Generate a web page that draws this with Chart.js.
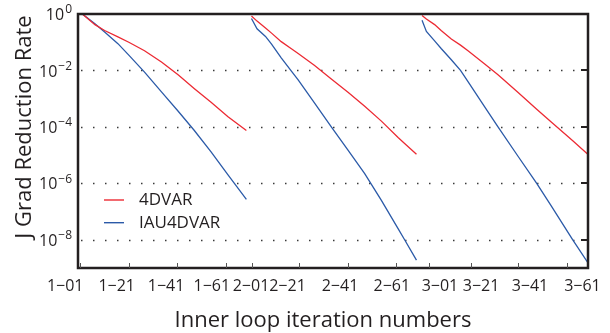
<!DOCTYPE html>
<html>
<head>
<meta charset="utf-8">
<script src="https://cdn.jsdelivr.net/npm/chart.js@4.4.1/dist/chart.umd.min.js"></script>
<style>
  html, body { margin: 0; padding: 0; background: #fff; }
  #wrap { width: 610px; height: 333px; }
</style>
</head>
<body>
<div id="wrap"><canvas id="gradChart" width="610" height="333"></canvas></div>
<script>
// Sampled inner iteration positions for each outer loop
const iters1 = [0.8, 6, 10, 15.5, 20, 26.5, 33.5, 40.5, 47, 54, 61, 68.6];
const iters2 = [70.7, 73, 76.5, 79, 83, 87.2, 90, 96.8, 103.7, 110.6, 117.5, 124.4, 131.3, 134, 138.9];
const iters3 = [141.2, 143, 146.4, 149.1, 153.3, 157.1, 160.2, 167.1, 172.6, 180.8, 188.6, 194.6, 203.5, 209.6];

// J gradient reduction rate, 4DVAR
const rate4dvar1 = [1, 0.42, 0.26, 0.155, 0.1, 0.050, 0.020, 6.9e-3, 2.3e-3, 7.4e-4, 2.3e-4, 7.4e-5];
const rate4dvar2 = [0.85, 0.56, 0.32, 0.21, 0.105, 0.059, 0.040, 0.015, 5.0e-3, 1.7e-3, 5.4e-4, 1.6e-4, 4.2e-5, 2.6e-5, 1.07e-5];
const rate4dvar3 = [0.89, 0.66, 0.42, 0.26, 0.13, 0.079, 0.050, 0.017, 7.1e-3, 1.7e-3, 4.2e-4, 1.5e-4, 3.2e-5, 1.1e-5];

// J gradient reduction rate, IAU4DVAR
const rateIau1 = [1, 0.45, 0.23, 0.089, 0.035, 8.7e-3, 1.74e-3, 3.5e-4, 7.6e-5, 1.3e-5, 2.0e-6, 2.7e-7];
const rateIau2 = [0.69, 0.30, 0.16, 0.085, 0.028, 9.5e-3, 4.6e-3, 6.9e-4, 1e-4, 1.5e-5, 2.2e-6, 2.5e-7, 2.5e-8, 1e-8, 1.9e-9];
const rateIau3 = [0.60, 0.24, 0.112, 0.060, 0.024, 0.01, 4.0e-3, 5.1e-4, 1e-4, 9.3e-6, 1e-6, 1.6e-7, 1e-8, 1.6e-9];

// x axis: tick marks and their labels (label centres)
const tickIters = [0, 20, 40, 60, 71, 90.5, 110.5, 130.5, 144, 161.5, 181, 201];
const labelIters = [-6.3, 15, 35.4, 54.3, 70.5, 85.6, 107.3, 128.7, 148.6, 165.6, 185.8, 207.5];
const tickLabels = ['1\u221201', '1\u221221', '1\u221241', '1\u221261',
                    '2\u221201', '2\u221221', '2\u221241', '2\u221261',
                    '3\u221201', '3\u221221', '3\u221241', '3\u221261'];

// y axis: decades shown and their exponents
const yTickValues = [1, 1e-2, 1e-4, 1e-6, 1e-8];
const yTickExps = ['0', '\u22122', '\u22124', '\u22126', '\u22128'];

const seriesNames = ['4DVAR', 'IAU4DVAR'];
const RED = '#ec2a33';
const BLUE = '#2b5aa8';
const INK = '#231f20';
const FONT = '"Open Sans", "Liberation Sans", sans-serif';

// Join the loops into one series, with a break between loops
function joinLoops(loops) {
    const pts = [];
    loops.forEach(([xs, ys], i) => {
        if (i > 0) pts.push({ x: xs[0], y: null });
        xs.forEach((x, k) => pts.push({ x: x, y: ys[k] }));
    });
    return pts;
}

const decorations = {
    id: 'decorations',
    beforeDatasetsDraw(chart) {
        const { ctx, chartArea: a, scales: { y } } = chart;
        ctx.save();
        ctx.strokeStyle = '#3a3a3a';
        ctx.lineWidth = 1.5;
        ctx.setLineDash([1.5, 10.5]);
        yTickValues.slice(1).forEach(v => {
            const py = Math.round(y.getPixelForValue(v)) + 0.5;
            ctx.beginPath();
            ctx.moveTo(a.left + 3, py);
            ctx.lineTo(a.right - 6, py);
            ctx.stroke();
        });
        ctx.restore();
    },
    afterDraw(chart) {
        const { ctx, chartArea: a, scales: { x, y } } = chart;
        ctx.save();
        ctx.fillStyle = INK;
        ctx.strokeStyle = INK;

        // frame
        ctx.lineWidth = 2.5;
        ctx.strokeRect(a.left, a.top, a.right - a.left, a.bottom - a.top);

        // inward tick marks
        ctx.lineWidth = 1;
        ctx.strokeStyle = '#555';
        tickIters.forEach(v => {
            const px = Math.round(x.getPixelForValue(v)) + 0.5;
            ctx.beginPath();
            ctx.moveTo(px, a.bottom);
            ctx.lineTo(px, a.bottom - 5);
            ctx.stroke();
        });
        ctx.lineWidth = 2;
        ctx.strokeStyle = INK;
        yTickValues.slice(1).forEach(v => {
            const py = Math.round(y.getPixelForValue(v));
            ctx.beginPath();
            ctx.moveTo(a.right, py);
            ctx.lineTo(a.right - 7, py);
            ctx.stroke();
        });

        // x tick labels
        ctx.font = '16px ' + FONT;
        ctx.textAlign = 'center';
        ctx.textBaseline = 'middle';
        tickLabels.forEach((t, i) => {
            ctx.fillText(t, x.getPixelForValue(labelIters[i]), a.bottom + 18);
        });

        // y tick labels: 10 with a raised exponent
        ctx.textAlign = 'left';
        yTickValues.forEach((v, i) => {
            const py = y.getPixelForValue(v);
            ctx.font = '16px ' + FONT;
            const wBase = ctx.measureText('10').width;
            ctx.font = '12px ' + FONT;
            const wExp = ctx.measureText(yTickExps[i]).width;
            const x0 = a.left - 6 - wBase - wExp - 1;
            ctx.font = '16px ' + FONT;
            ctx.fillText('10', x0, py + 1.5);
            ctx.font = '12px ' + FONT;
            ctx.fillText(yTickExps[i], x0 + wBase + 1, py - 4);
        });

        // axis titles
        ctx.font = '22px ' + FONT;
        ctx.textAlign = 'center';
        ctx.textBaseline = 'alphabetic';
        ctx.fillText('Inner loop iteration numbers', (a.left + a.right) / 2 - 10, 326.5);
        ctx.save();
        ctx.translate(31, (a.top + a.bottom) / 2 - 14);
        ctx.rotate(-Math.PI / 2);
        ctx.fillText('J Grad Reduction Rate', 0, 0);
        ctx.restore();

        // legend
        ctx.font = '17px ' + FONT;
        ctx.textAlign = 'left';
        ctx.textBaseline = 'middle';
        chart.data.datasets.forEach((ds, i) => {
            const ly = a.bottom - 68 + i * 22.7;
            ctx.strokeStyle = ds.borderColor;
            ctx.lineWidth = 1.4;
            ctx.beginPath();
            ctx.moveTo(a.left + 26, ly);
            ctx.lineTo(a.left + 46, ly);
            ctx.stroke();
            ctx.fillStyle = INK;
            ctx.fillText(ds.label, a.left + 61, ly);
        });
        ctx.restore();
    }
};

new Chart(document.getElementById('gradChart'), {
    type: 'line',
    data: {
        datasets: [
            {
                label: seriesNames[0],
                data: joinLoops([[iters1, rate4dvar1], [iters2, rate4dvar2], [iters3, rate4dvar3]]),
                borderColor: RED,
                borderWidth: 1.3,
                pointRadius: 0,
                tension: 0,
                spanGaps: false
            },
            {
                label: seriesNames[1],
                data: joinLoops([[iters1, rateIau1], [iters2, rateIau2], [iters3, rateIau3]]),
                borderColor: BLUE,
                borderWidth: 1.3,
                pointRadius: 0,
                tension: 0,
                spanGaps: false
            }
        ]
    },
    options: {
        responsive: false,
        animation: false,
        layout: { padding: { left: 78, right: 22, top: 14, bottom: 65 } },
        plugins: {
            legend: { display: false },
            tooltip: { enabled: false }
        },
        scales: {
            x: { type: 'linear', min: -1, max: 209.8, display: false },
            y: { type: 'logarithmic', min: 1e-9, max: 1, display: false }
        }
    },
    plugins: [decorations]
});
</script>
</body>
</html>
